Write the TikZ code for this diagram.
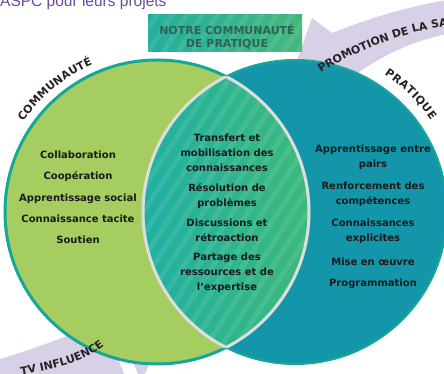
\documentclass[tikz,border=0pt]{standalone}
\usepackage{fontspec}
\setmainfont{Liberation Sans}
\newfontfamily\dvfont{DejaVu Sans}
\usetikzlibrary{decorations.text}
\newcommand\arclabelfont{\dvfont\bfseries\fontsize{11}{13}\selectfont}
\definecolor{cgreen}{HTML}{A5CD5F}
\definecolor{cteal}{HTML}{1396A9}
\definecolor{cborder}{HTML}{17A79A}
\definecolor{rborder}{HTML}{1BA597}
\definecolor{lensA}{HTML}{1FB0A4}
\definecolor{lensB}{HTML}{3DB97A}
\definecolor{titleA}{HTML}{24AF9E}
\definecolor{titleB}{HTML}{44B87B}
\definecolor{lavender}{HTML}{D8D0E6}
\definecolor{purpletxt}{HTML}{6A4BA0}
\definecolor{darktxt}{HTML}{1A1A1A}
\definecolor{labeltxt}{HTML}{2A2024}
\definecolor{titletxt}{HTML}{2B6358}
\definecolor{lensline}{HTML}{DEDEDE}
\begin{document}
\begin{tikzpicture}[x=1pt,y=1pt,
  item/.style={font={\dvfont\bfseries\fontsize{10}{15}\selectfont}, text=darktxt,
    align=center, inner sep=0pt, execute at begin node=\strut, execute at end node=\strut},
  titletext/.style={font={\dvfont\bfseries\fontsize{11}{13}\selectfont}, text=titletxt,
    align=center, inner sep=0pt, execute at begin node=\strut, execute at end node=\strut},
  stripe/.style={white, opacity=0.09, line width=5pt},
  band/.style={fill=lavender},
  lensedge/.style={draw=lensline, line width=3pt},
  arclabel/.style={decorate, decoration={text along path, text color=labeltxt,
    text align={fit to path}}}
]
\useasboundingbox (0,0) rectangle (444,374);
\fill[white] (0,0) rectangle (444,374);
\coordinate (L) at (157,162);
\coordinate (R) at (295,162);

% purple arrows
\path[band] (470,377) .. controls (420,372) and (370,356) .. (332,341)
  -- (312,356) -- (290,294) -- (340,276) -- (355,299)
  .. controls (390,324) and (425,338) .. (470,344) -- cycle;
\path[band] (-10,12) .. controls (30,24) and (60,34) .. (100,52)
  -- (170,74) -- (146,2) -- (140,-4) -- (130,18) -- (114,24) -- (126,-4)
  -- (126,-11) -- (-10,-11) -- cycle;

% circles
\fill[cteal] (R) circle[radius=152];
\draw[rborder, line width=2pt] (R) circle[radius=152];
\fill[cgreen] (L) circle[radius=152];
\draw[cborder, line width=3pt] (L) circle[radius=152];

% lens
\begin{scope}
  \clip (L) circle[radius=152];
  \clip (R) circle[radius=152];
  \shade[left color=lensA, right color=lensB] (140,20) rectangle (312,304);
  \foreach \k in {-22,...,14} \draw[stripe] (143+15*\k,0) -- ++(57:450);
\end{scope}
\begin{scope}
  \clip (L) circle[radius=152];
  \draw[lensedge] (R) circle[radius=152];
\end{scope}
\begin{scope}
  \clip (R) circle[radius=152];
  \draw[lensedge] (L) circle[radius=152];
\end{scope}

% title box
\begin{scope}
  \clip (148,322) rectangle (302,359);
  \shade[left color=titleA, right color=titleB] (148,322) rectangle (302,359);
  \foreach \k in {-4,...,11} \draw[stripe] (148+15*\k,322) -- ++(57:60);
\end{scope}
\node[titletext] (title) at (227,335.8) {NOTRE COMMUNAUTÉ\\DE PRATIQUE};

% heading
\node[anchor=base west, inner sep=0pt, text=purpletxt,
  font=\fontsize{15.5}{18}\selectfont] (heading) at (0,367.3) {ASPC pour leurs projets};

% left items
\node[item] (c1) at (78,218) {Collaboration};
\node[item] (c2) at (78,197) {Coopération};
\node[item] (c3) at (78,175) {Apprentissage social};
\node[item] (c4) at (78,154) {Connaissance tacite};
\node[item] (c5) at (78,133) {Soutien};

% middle items
\node[item] (m1) at (227,219) {Transfert et\\mobilisation des\\connaissances};
\node[item] (m2) at (227,177) {Résolution de\\problèmes};
\node[item] (m3) at (227,141.5) {Discussions et\\rétroaction};
\node[item] (m4) at (227,100) {Partage des\\ressources et de\\l’expertise};

% right items
\node[item] (p1) at (373,216) {Apprentissage entre\\pairs};
\node[item] (p2) at (373,178.5) {Renforcement des\\compétences};
\node[item] (p3) at (373,141.5) {Connaissances\\explicites};
\node[item] (p4) at (373,111) {Mise en œuvre};
\node[item] (p5) at (373,90) {Programmation};

% curved labels
\path[arclabel, decoration={text={|\arclabelfont|COMMUNAUTÉ}}]
  ([shift={(146:161)}]L) arc[start angle=146, end angle=113.5, radius=161];
\path[arclabel, decoration={text={|\arclabelfont|PRATIQUE}}]
  ([shift={(57:164)}]R) arc[start angle=57, end angle=34, radius=164];
\path[arclabel, decoration={text={|\arclabelfont|PROMOTION DE LA SA}}]
  (321,301) .. controls (355,323) and (400,341) .. (447,348);
\path[arclabel, decoration={text={|\arclabelfont|TV INFLUENCE}}]
  (21,-1) .. controls (45,3) and (80,9) .. (103,27);
\end{tikzpicture}
\end{document}
